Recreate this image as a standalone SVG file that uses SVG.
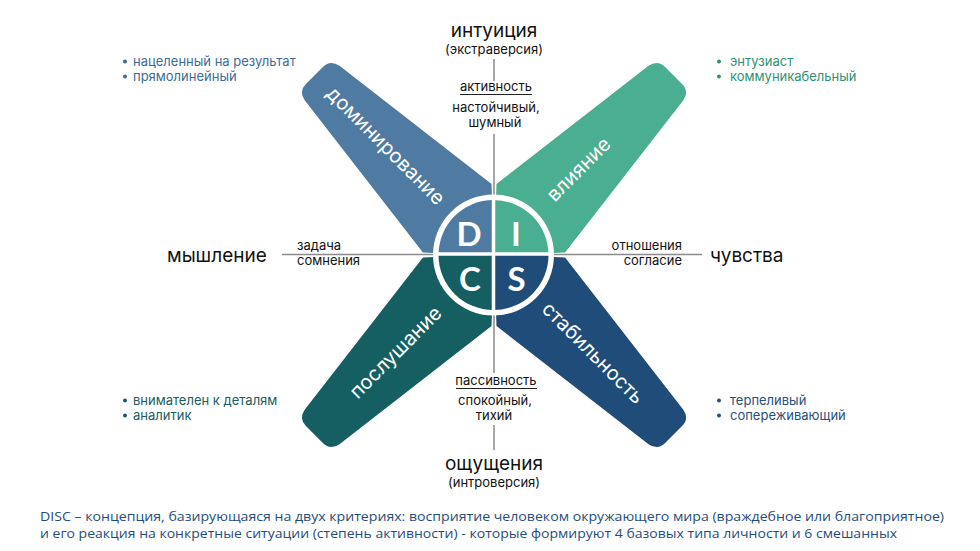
<svg xmlns="http://www.w3.org/2000/svg" width="980" height="551" viewBox="0 0 980 551">
<defs>
<style>
.t{font-family:Inter,"Noto Sans","Liberation Sans",sans-serif;fill:#111}
.big{font-size:19px}
.sm{font-size:13px}
.ctr{text-anchor:middle}
.lbl{font-family:Inter,"Noto Sans","Liberation Sans",sans-serif;font-size:20px;fill:#fff}
.ax{stroke:#8a8a8a;stroke-width:1.5;fill:none}
.ul{stroke:#222;stroke-width:1.2}
.bul{font-family:Inter,"Noto Sans","Liberation Sans",sans-serif;font-size:13px}
.let{font-family:Lato,"Open Sans","Liberation Sans",sans-serif;font-weight:700;font-size:33px;fill:#fff;text-anchor:middle}
.foot{font-family:"Open Sans","Noto Sans","Liberation Sans",sans-serif;font-size:13.5px;fill:#1f4d7a}
</style>
<path id="petal" d="M 20,-19 L 44,-41 L 52,-48.5 L 243,-24.5 Q 254,-22.6 254,-12 L 254,12 Q 254,22.6 243,24.5 L 52,48.5 L 44,41 L 20,19 Z"/>
</defs>
<rect width="980" height="551" fill="#fff"/>

<g id="petal-D">
<use href="#petal" fill="#4f7ba2" transform="translate(494,255) rotate(-135)"/>
<text class="lbl" text-anchor="end" transform="translate(494,255) rotate(45)" x="-75" y="6">доминирование</text>
</g>
<g id="petal-I">
<use href="#petal" fill="#4aae90" transform="translate(494,255) rotate(-45)"/>
<text class="lbl" transform="translate(494,255) rotate(-45)" x="80" y="6">влияние</text>
</g>
<g id="petal-C">
<use href="#petal" fill="#155f63" transform="translate(494,255) rotate(135)"/>
<text class="lbl" text-anchor="end" transform="translate(494,255) rotate(-45)" x="-78" y="6">послушание</text>
</g>
<g id="petal-S">
<use href="#petal" fill="#1f4c78" transform="translate(494,255) rotate(45)"/>
<text class="lbl" transform="translate(494,255) rotate(45)" x="72" y="6">стабильность</text>
</g>

<g id="connectors">
<line class="ax" x1="494" y1="59" x2="494" y2="81"/>
<line class="ax" x1="494" y1="134" x2="494" y2="200"/>
<line class="ax" x1="494" y1="310" x2="494" y2="373"/>
<line class="ax" x1="494" y1="425" x2="494" y2="450"/>
<line class="ax" x1="282" y1="254.5" x2="440" y2="254.5"/>
<line class="ax" x1="548" y1="254.5" x2="702" y2="254.5"/>
</g>

<g id="disc">
<circle cx="493.5" cy="255" r="60.5" fill="#fff"/>
<path d="M493.5,255 L438.5,255 A55,55 0 0 1 493.5,200 Z" fill="#4f7ba2"/>
<path d="M493.5,255 L493.5,200 A55,55 0 0 1 548.5,255 Z" fill="#4aae90"/>
<path d="M493.5,255 L438.5,255 A55,55 0 0 0 493.5,310 Z" fill="#155f63"/>
<path d="M493.5,255 L493.5,310 A55,55 0 0 0 548.5,255 Z" fill="#1f4c78"/>
<line x1="493.5" y1="195" x2="493.5" y2="315" stroke="#fff" stroke-width="3.5"/>
<line x1="433" y1="254" x2="554" y2="254" stroke="#fff" stroke-width="3.5"/>
<text class="let" x="469" y="245.5">D</text>
<text class="let" x="516" y="245.5">I</text>
<text class="let" x="470" y="290.5">C</text>
<text class="let" x="516.5" y="290.5">S</text>
</g>

<g id="top-labels">
<text class="t big ctr" x="494" y="37">интуиция</text>
<text class="t sm ctr" x="494" y="54">(экстраверсия)</text>
<text class="t sm ctr" x="496" y="91">активность</text>
<line class="ul" x1="460" y1="94.5" x2="532" y2="94.5"/>
<text class="t sm ctr" x="496" y="112">настойчивый,</text>
<text class="t sm ctr" x="495" y="126.5">шумный</text>
</g>

<g id="bottom-labels">
<text class="t sm ctr" x="496" y="385">пассивность</text>
<line class="ul" x1="456" y1="388.5" x2="537" y2="388.5"/>
<text class="t sm ctr" x="495" y="405">спокойный,</text>
<text class="t sm ctr" x="494" y="420">тихий</text>
<text class="t big ctr" x="494" y="470">ощущения</text>
<text class="t sm ctr" x="494" y="487">(интроверсия)</text>
</g>

<g id="left-labels">
<text class="t big" x="167" y="262">мышление</text>
<text class="t sm" x="297" y="250">задача</text>
<text class="t sm" x="297" y="265">сомнения</text>
</g>

<g id="right-labels">
<text class="t sm" text-anchor="end" x="682" y="250">отношения</text>
<text class="t sm" text-anchor="end" x="682" y="265">согласие</text>
<text class="t big" x="710" y="262">чувства</text>
</g>

<g id="bullets-D" class="bul" fill="#3d6b96">
<circle cx="125" cy="61.5" r="2"/>
<circle cx="125" cy="76.5" r="2"/>
<text x="133" y="66">нацеленный на результат</text>
<text x="133" y="81">прямолинейный</text>
</g>
<g id="bullets-I" class="bul" fill="#2f9275">
<circle cx="719" cy="61.5" r="2"/>
<circle cx="719" cy="76.5" r="2"/>
<text x="730" y="66">энтузиаст</text>
<text x="730" y="81">коммуникабельный</text>
</g>
<g id="bullets-C" class="bul" fill="#1a5c60">
<circle cx="125" cy="400.5" r="2"/>
<circle cx="125" cy="415.5" r="2"/>
<text x="133" y="405">внимателен к деталям</text>
<text x="133" y="420">аналитик</text>
</g>
<g id="bullets-S" class="bul" fill="#27507c">
<circle cx="719" cy="400.5" r="2"/>
<circle cx="719" cy="415.5" r="2"/>
<text x="730" y="405">терпеливый</text>
<text x="730" y="420">сопереживающий</text>
</g>

<g id="footer">
<text class="foot" x="40" y="521" textLength="904" lengthAdjust="spacingAndGlyphs">DISC – концепция, базирующаяся на двух критериях: восприятие человеком окружающего мира (враждебное или благоприятное)</text>
<text class="foot" x="40" y="538" textLength="857" lengthAdjust="spacingAndGlyphs">и его реакция на конкретные ситуации (степень активности) - которые формируют 4 базовых типа личности и 6 смешанных</text>
</g>
</svg>
